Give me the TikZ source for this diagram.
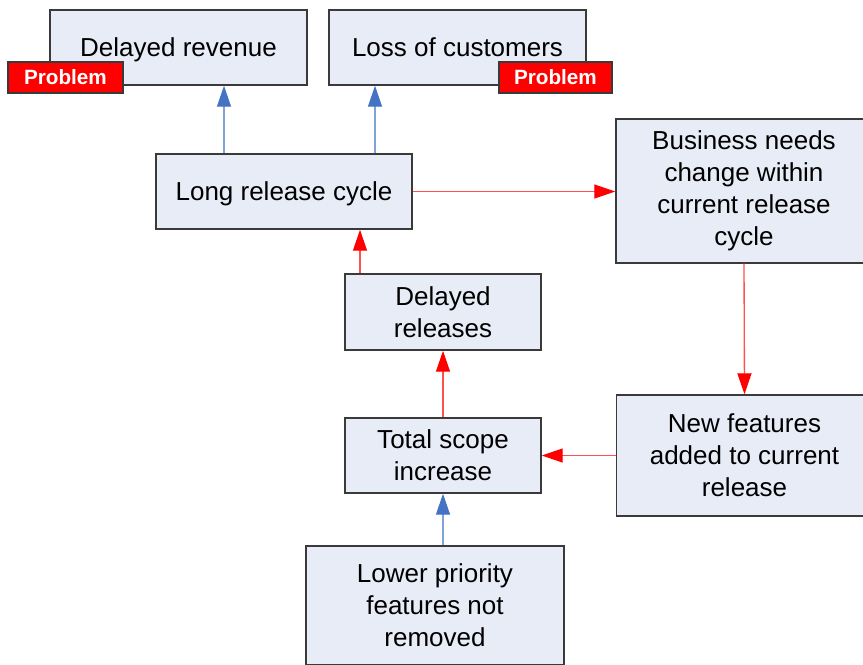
\documentclass[tikz,border=0pt]{standalone}
\usepackage{fontspec}
\setmainfont{Liberation Sans}
\usetikzlibrary{arrows.meta}
\definecolor{boxfill}{HTML}{E8ECF7}
\definecolor{boxline}{HTML}{3A3A3A}
\definecolor{blueline}{HTML}{7FA3D6}
\definecolor{bluetip}{HTML}{4472C4}
\definecolor{redline}{HTML}{FF5050}
\tikzset{
  box/.style={draw=boxline, line width=1.1pt, fill=boxfill, inner sep=0pt, align=center,
    font=\fontsize{19.5}{24}\selectfont},
  onebox/.style={box, text height=14pt, text depth=0pt},
  tag/.style={draw=boxline, line width=1pt, fill=red, text=white, inner sep=0pt,
    font=\bfseries\fontsize{15.5}{18}\selectfont},
  bluearrow/.style={draw=blueline, line width=1pt, -{Triangle[length=15.75pt,width=10.5pt,color=bluetip]}},
  redarrow/.style={draw=redline, line width=1pt, -{Triangle[length=15.75pt,width=10.5pt,color=red]}},
}
\begin{document}
\begin{tikzpicture}[x=0.75pt,y=-0.75pt]
\useasboundingbox (0,0) rectangle (863,664);
\fill[white] (0,0) rectangle (863,664);
\clip (0,0) rectangle (863,664);
\node[onebox, minimum width=0.75*257pt, minimum height=0.75*75pt] (dr) at (178.5,47.5) {Delayed revenue};
\node[onebox, minimum width=0.75*257pt, minimum height=0.75*75pt] (loc) at (457.5,47.5) {Loss of customers};
\node[tag, minimum width=0.75*115pt, minimum height=0.75*31pt] (t1) at (65.5,77.5) {Problem};
\node[tag, minimum width=0.75*113pt, minimum height=0.75*31pt] (t2) at (555.5,77.5) {Problem};
\node[onebox, minimum width=0.75*256pt, minimum height=0.75*75pt] (lrc) at (284,191.5) {Long release cycle};
\node[box, minimum width=0.75*256pt, minimum height=0.75*144pt] (bn) at (744,191) {Business needs\\change within\\current release\\cycle};
\node[box, minimum width=0.75*196pt, minimum height=0.75*76pt] (drl) at (443,312) {Delayed\\releases};
\node[box, minimum width=0.75*196pt, minimum height=0.75*75pt] (tsi) at (443,455.5) {Total scope\\increase};
\node[box, minimum width=0.75*256pt, minimum height=0.75*121pt] (nf) at (744.5,455.5) {New features\\added to current\\release};
\node[box, minimum width=0.75*258pt, minimum height=0.75*119pt] (lpf) at (435,605.5) {Lower priority\\features not\\removed};
\draw[bluearrow] (lrc.north -| 224,0) -- (dr.south -| 224,0);
\draw[bluearrow] (lrc.north -| 375,0) -- (loc.south -| 375,0);
\draw[redarrow] (lrc.east) -- (lrc.east -| bn.west);
\draw[redarrow] (bn.south) -- (nf.north);
\draw[redarrow] (nf.west) -- (nf.west -| tsi.east);
\draw[redarrow] (tsi.north) -- (drl.south);
\draw[redarrow] (drl.north -| 360,0) -- (lrc.south -| 360,0);
\draw[bluearrow] (lpf.north -| tsi.south) -- (tsi.south);
\end{tikzpicture}
\end{document}
